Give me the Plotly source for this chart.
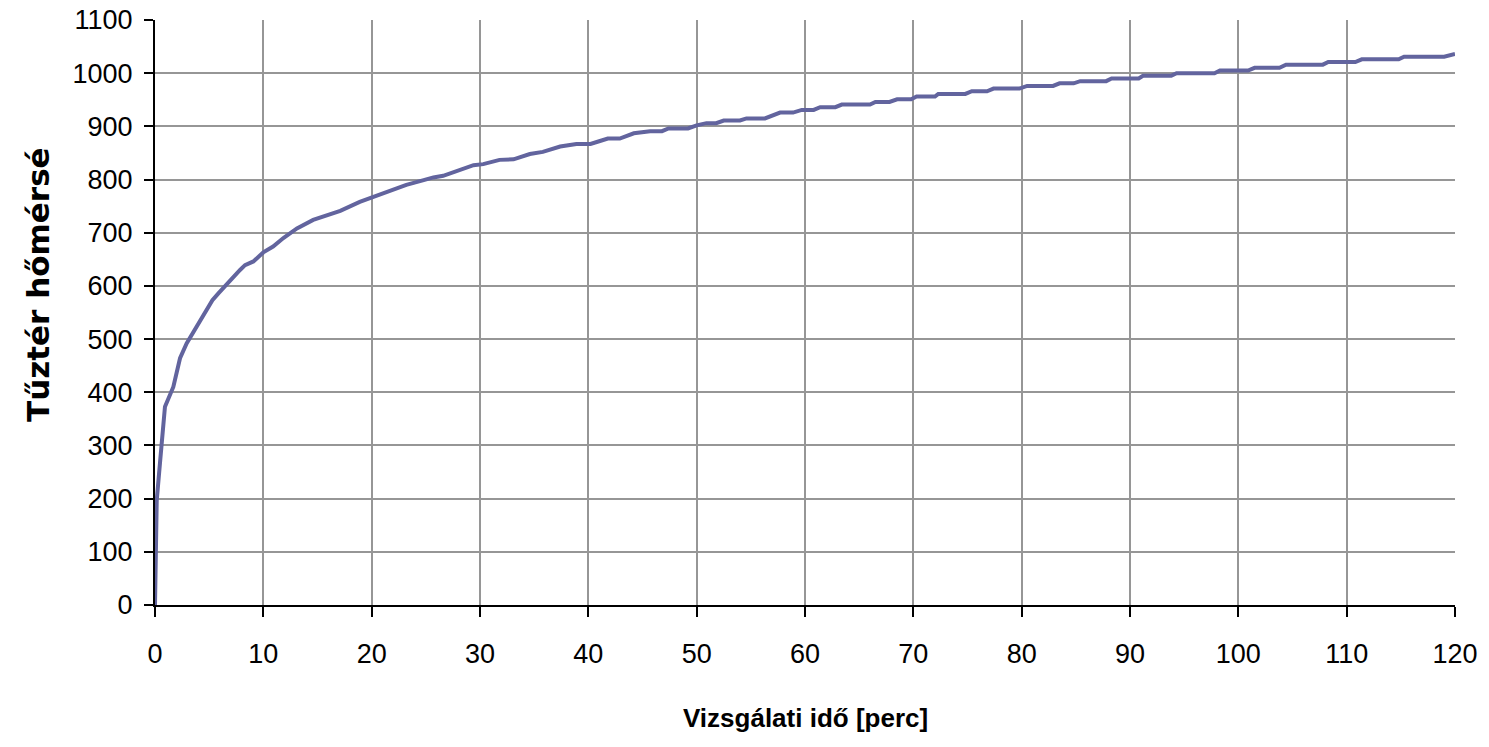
import plotly.graph_objects as go

# Time [min] and furnace temperature [°C]
time_min = [0, 0.09, 0.16, 0.46, 0.62, 0.92, 1.69, 2.31, 2.92, 3.85, 4.92, 5.3, 5.85,
            6.92, 7.85, 8.31, 9.08, 10.0, 10.9, 11.85, 13.1, 14.6, 15.85, 17.1, 18.9,
            19.85, 21.1, 22.0, 23.2, 24.8, 25.7, 26.6, 28.2, 29.4, 30.3, 31.8, 33.1,
            34.6, 35.8, 37.4, 38.9, 40.2, 41.0, 41.8, 42.9, 44.2, 45.7, 46.8, 47.4,
            49.2, 50.0, 50.9, 51.8, 52.5, 54.0, 54.6, 56.3, 57.0, 57.7, 58.9, 59.7,
            60.8, 61.4, 62.8, 63.4, 66.0, 66.5, 67.8, 68.5, 69.8, 70.3, 72.0, 72.3,
            74.8, 75.4, 76.8, 77.4, 79.8, 80.5, 82.9, 83.5, 84.8, 85.4, 87.8, 88.3,
            90.8, 91.2, 93.8, 94.3, 97.8, 98.3, 100.9, 101.5, 103.8, 104.4, 107.8,
            108.3, 110.8, 111.4, 114.8, 115.3, 119.0, 120.0]
temp_c = [0, 100, 197, 267, 305, 373, 410, 464, 492, 523, 558, 573, 586,
          611, 630, 639, 646, 663, 674, 690, 708, 724, 733, 741, 758,
          765, 774, 780, 790, 799, 804, 807, 819, 827, 829, 837, 838,
          848, 852, 862, 867, 867, 872, 877, 877, 887, 891, 891, 896,
          896, 902, 906, 906, 911, 911, 915, 915, 920, 926, 926, 931,
          931, 936, 936, 941, 941, 946, 946, 951, 951, 956, 956, 961,
          961, 966, 966, 971, 971, 976, 976, 981, 981, 985, 985, 990,
          990, 995, 995, 1000, 1000, 1005, 1005, 1010, 1010, 1016, 1016,
          1021, 1021, 1026, 1026, 1031, 1031, 1036]

x_ticks = list(range(0, 121, 10))
y_ticks = list(range(0, 1101, 100))

x_title = "Vizsgálati idő [perc]"
y_title = "Tűztér hőmérsé"

narrow = "Liberation Sans Narrow, Liberation Sans, Arial, sans-serif"

fig = go.Figure()
fig.add_trace(go.Scatter(
    x=time_min, y=temp_c, mode="lines",
    line=dict(color="#62649e", width=4),
    showlegend=False, hoverinfo="x+y",
))

fig.update_layout(
    width=1489, height=747,
    margin=dict(l=155, r=34, t=20, b=142, autoexpand=False),
    paper_bgcolor="white", plot_bgcolor="white",
    font=dict(family=narrow, size=27, color="black"),
    xaxis=dict(
        range=[0, 120], tickvals=x_ticks, ticktext=[str(v) for v in x_ticks],
        showgrid=True, gridcolor="#969696", gridwidth=2,
        showline=True, linecolor="black", linewidth=2,
        ticks="outside", ticklen=10, tickwidth=2, tickcolor="black",
        ticklabelstandoff=14, zeroline=False, automargin=False,
        tickfont=dict(family=narrow, size=27, color="black"),
    ),
    yaxis=dict(
        range=[0, 1100], tickvals=y_ticks, ticktext=[str(v) for v in y_ticks],
        showgrid=True, gridcolor="#969696", gridwidth=2,
        showline=True, linecolor="black", linewidth=2,
        ticks="outside", ticklen=9, tickwidth=2, tickcolor="black",
        ticklabelstandoff=6, zeroline=False, automargin=False,
        tickfont=dict(family=narrow, size=27, color="black"),
    ),
    annotations=[
        dict(text="<b>" + x_title + "</b>", xref="paper", yref="paper",
             x=0.5, y=-0.193, showarrow=False, xanchor="center", yanchor="middle",
             font=dict(family=narrow, size=26, color="black")),
        dict(text="<b>" + y_title + "</b>", xref="paper", yref="paper",
             x=-0.09, y=0.547, showarrow=False, xanchor="center", yanchor="middle",
             textangle=-90,
             font=dict(family="DejaVu Sans, Verdana, sans-serif", size=31, color="black")),
    ],
)

fig.write_html("out.html")
